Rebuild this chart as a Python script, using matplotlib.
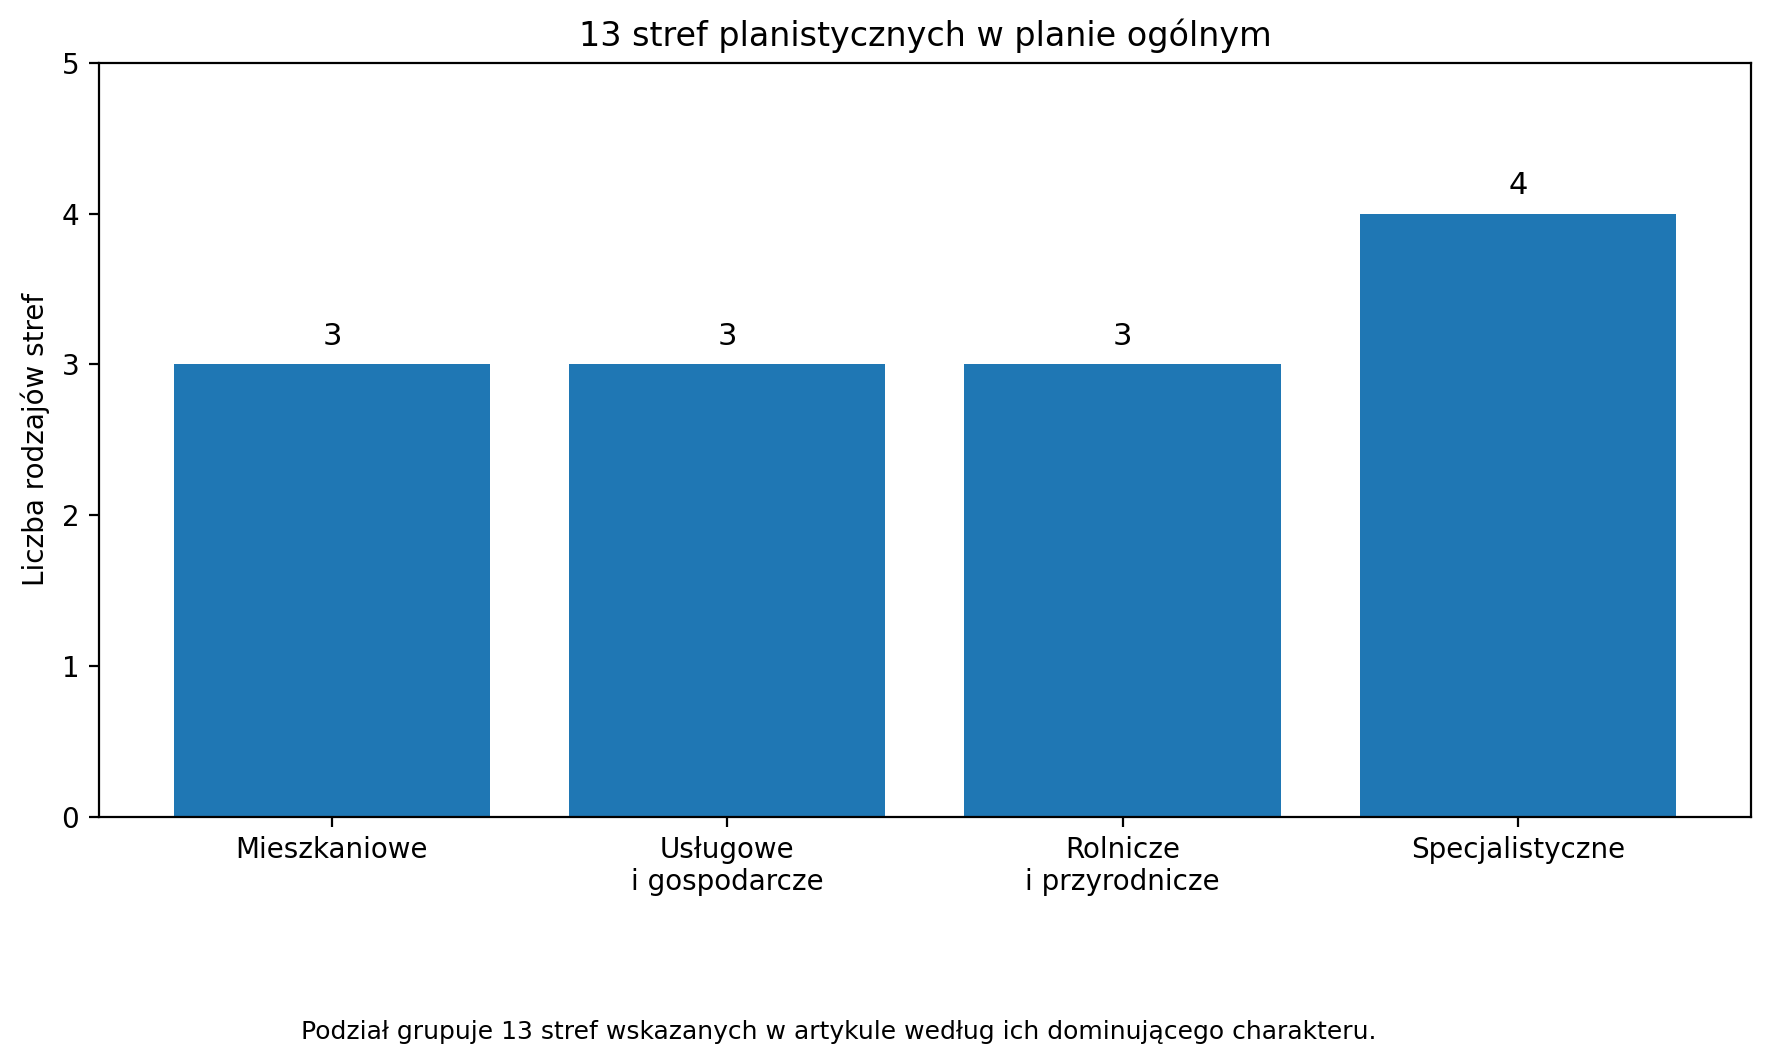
import matplotlib
matplotlib.use("Agg")
import matplotlib.pyplot as plt

categories = ["Mieszkaniowe", "Usługowe\ni gospodarcze", "Rolnicze\ni przyrodnicze", "Specjalistyczne"]
counts = [3, 3, 3, 4]

fig = plt.figure(figsize=(8.85, 5.315), dpi=200)
ax = fig.add_axes([0.0558, 0.2318, 0.9335, 0.709])

bars = ax.bar(categories, counts, color="#1f77b4", width=0.8)
ax.bar_label(bars, padding=5, fontsize=11)
ax.set_ylim(0, 5)
ax.set_ylabel("Liczba rodzajów stref", fontsize=10)
ax.set_title("13 stref planistycznych w planie ogólnym", fontsize=12)
ax.tick_params(labelsize=10)

fig.text(0.474, 0.029, "Podział grupuje 13 stref wskazanych w artykule według ich dominującego charakteru.",
         ha="center", va="center", fontsize=9)

fig.savefig("out.png", dpi=200)
